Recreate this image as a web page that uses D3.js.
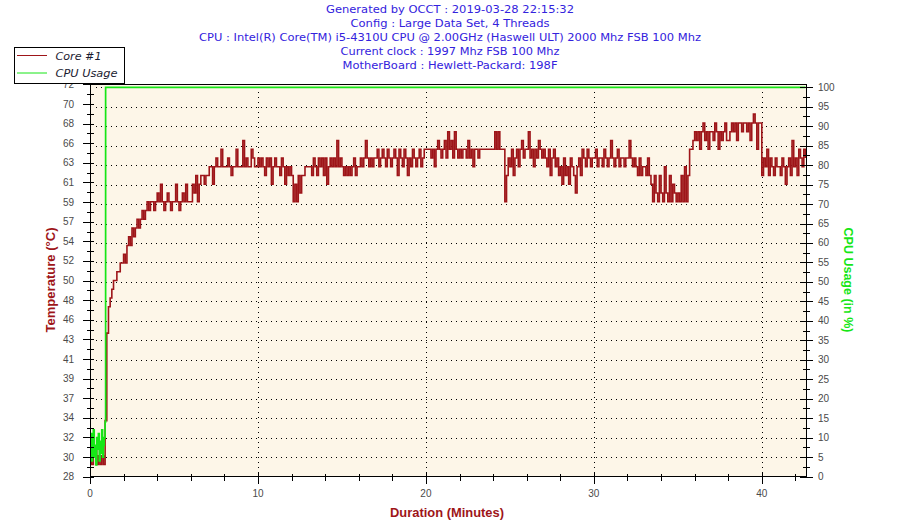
<!DOCTYPE html>
<html><head><meta charset="utf-8">
<script src="https://cdn.jsdelivr.net/npm/d3@7"></script>
<style>html,body{margin:0;padding:0;background:#fff;} svg{display:block;}</style>
</head><body>
<svg id="chart" width="900" height="532"></svg>
<script>
// ---------------- DATA ----------------
const titleLines = [
  "Generated by OCCT : 2019-03-28 22:15:32",
  "Config : Large Data Set, 4 Threads",
  "CPU : Intel(R) Core(TM) i5-4310U CPU @ 2.00GHz (Haswell ULT) 2000 Mhz FSB 100 Mhz",
  "Current clock : 1997 Mhz FSB 100 Mhz",
  "MotherBoard : Hewlett-Packard: 198F"
];
const seriesNames = ["Core #1", "CPU Usage"];
const sampleStepMinutes = 0.1;
// Core #1 temperature (°C), one reading every 0.1 minute from 0.0 to 42.6
const coreTemp = [
  30,29,30,31,29,30,29,30,29,34,
  44,47,48,49,50,50,51,51,52,52,
  53,52,54,55,54,56,55,56,57,56,
  57,58,57,58,59,58,59,59,58,59,
  60,59,61,59,58,59,60,59,58,59,
  59,61,59,58,59,60,59,61,59,59,
  59,61,60,62,59,61,62,62,61,62,
  62,63,63,61,63,64,63,63,65,63,
  63,63,64,63,62,63,63,65,63,63,
  63,66,63,64,63,63,65,64,63,63,
  64,63,64,63,62,64,63,64,61,63,
  64,63,63,62,64,63,61,63,62,63,
  62,59,61,59,62,60,62,62,63,63,
  63,63,62,64,63,62,64,63,64,62,
  64,61,63,64,63,64,63,66,63,64,
  63,62,63,62,63,62,63,64,62,63,
  63,64,63,64,66,64,63,64,63,64,
  64,65,63,64,65,64,63,65,64,63,
  64,65,64,62,65,64,63,65,64,62,
  64,63,65,64,63,64,65,63,64,65,
  65,65,65,64,65,63,65,66,65,64,
  65,66,64,67,65,66,64,67,65,64,
  65,64,65,65,64,66,64,65,63,65,
  65,64,65,65,65,65,65,65,65,65,
  65,67,65,67,65,65,65,59,62,64,
  63,65,62,64,65,63,65,66,64,65,
  65,67,64,65,63,65,64,66,65,64,
  65,64,63,65,62,64,65,63,64,62,
  63,61,64,62,63,61,64,63,62,60,
  63,64,62,65,64,63,65,64,63,64,
  64,65,63,64,64,63,65,64,63,64,
  66,64,63,64,65,63,64,64,63,64,
  64,66,64,63,64,63,62,64,62,63,
  63,62,64,62,61,59,62,60,59,62,
  60,59,63,60,59,62,59,61,60,59,
  60,59,62,59,63,59,62,65,65,66,
  67,66,67,65,67,68,66,67,65,67,
  67,66,68,67,65,67,66,67,68,66,
  66,67,68,67,68,66,68,68,67,68,
  68,67,68,66,68,69,68,65,68,68,
  62,64,63,65,62,64,63,62,64,63,
  63,62,64,63,61,63,64,62,66,63,
  64,62,65,64,63,65,64
];
// CPU usage (%)
const cpuMinutes = [0,0.05,0.1,0.15,0.2,0.25,0.3,0.35,0.4,0.45,0.5,0.55,0.6,0.65,0.7,0.75,0.8,0.85,0.9,0.93,42.6];
const cpuUsage   = [6,11,4,9,12,5,8,3,10,7,11,4,9,6,12,5,8,10,14,100,100];
// axes
const tempTickLabels = [28,30,32,34,37,39,41,43,46,48,50,52,54,57,59,61,63,66,68,70,72];
const tempDomain = [27.6, 72.4];
const cpuTickValues = [0,5,10,15,20,25,30,35,40,45,50,55,60,65,70,75,80,85,90,95,100];
const timeTickValues = [0,10,20,30,40];
const timeMinorTickValues = [2,4,6,8,12,14,16,18,22,24,26,28,32,34,36,38,42];
const timeDomain = [0, 42.63];

// ---------------- LAYOUT ----------------
const L = 90, R = 806, T = 84.5, B = 476.5;
const svg = d3.select("#chart");
const x = d3.scaleLinear().domain(timeDomain).range([L, R]);
const yT = d3.scaleLinear().domain(tempDomain).range([476.7, 84.4]);
const yC = d3.scaleLinear().domain([0, 100]).range([476.5, 87.3]);
const tempTickValues = tempTickLabels.map((d, i) => tempDomain[0] + i * (tempDomain[1] - tempDomain[0]) / (tempTickLabels.length - 1));
const tempMinorValues = tempTickValues.slice(0, -1).map((d, i) => (d + tempTickValues[i + 1]) / 2);
const cpuMinorValues = cpuTickValues.slice(0, -1).map(d => d + 2.5);

const red = "#9e1519", green = "#16e616", tickGray = "#4a4a4a";
const fontTick = "'Liberation Sans', Arial, sans-serif";

svg.append("rect").attr("x", L).attr("y", T).attr("width", R - L).attr("height", B - T).attr("fill", "#fdf6e8");

// grid
const grid = svg.append("g").attr("stroke", "#000").attr("stroke-width", 1).attr("stroke-dasharray", "1,4").attr("shape-rendering", "crispEdges");
grid.selectAll("line.h").data(cpuTickValues.filter(v => v > 0)).enter().append("line")
  .attr("x1", L + 6).attr("x2", R).attr("y1", d => Math.round(yC(d)) + 0.5).attr("y2", d => Math.round(yC(d)) + 0.5);
grid.selectAll("line.v").data(timeTickValues.filter(v => v > 0)).enter().append("line")
  .attr("x1", d => Math.round(x(d)) + 0.5).attr("x2", d => Math.round(x(d)) + 0.5).attr("y1", T + 2).attr("y2", B);

// series
const tempData = coreTemp.map((v, i) => [i * sampleStepMinutes, v]);
svg.append("path").datum(tempData)
  .attr("fill", "none").attr("stroke", red).attr("stroke-width", 1.6)
  .attr("d", d3.line().x(d => x(d[0])).y(d => yT(d[1])).curve(d3.curveStepAfter));
const cpuData = cpuMinutes.map((m, i) => [m, cpuUsage[i]]);
svg.append("path").datum(cpuData)
  .attr("fill", "none").attr("stroke", green).attr("stroke-width", 1.7)
  .attr("d", d3.line().x(d => x(d[0])).y(d => yC(d[1])).curve(d3.curveStepAfter));

// frame / axes lines
const ax = svg.append("g").attr("stroke", "#000").attr("stroke-width", 1).attr("shape-rendering", "crispEdges");
ax.append("line").attr("x1", 88).attr("x2", R + 1).attr("y1", 84.5).attr("y2", 84.5);
ax.append("line").attr("x1", L + 0.5).attr("x2", L + 0.5).attr("y1", 84).attr("y2", 477);
ax.append("line").attr("x1", L).attr("x2", R + 1).attr("y1", B).attr("y2", B);
ax.append("line").attr("x1", R + 0.5).attr("x2", R + 0.5).attr("y1", 84).attr("y2", 477);

// left ticks
ax.selectAll("line.lt").data(tempTickValues).enter().append("line")
  .attr("x1", L - 7).attr("x2", L + 4).attr("y1", d => Math.round(yT(d)) + 0.5).attr("y2", d => Math.round(yT(d)) + 0.5);
ax.selectAll("line.lm").data(tempMinorValues).enter().append("line")
  .attr("x1", L - 3).attr("x2", L + 4).attr("y1", d => Math.round(yT(d)) + 0.5).attr("y2", d => Math.round(yT(d)) + 0.5);
// right ticks
ax.selectAll("line.rt").data(cpuTickValues).enter().append("line")
  .attr("x1", R - 6).attr("x2", R + 7).attr("y1", d => Math.round(yC(d)) + 0.5).attr("y2", d => Math.round(yC(d)) + 0.5);
ax.selectAll("line.rm").data(cpuMinorValues).enter().append("line")
  .attr("x1", R - 3).attr("x2", R + 4).attr("y1", d => Math.round(yC(d)) + 0.5).attr("y2", d => Math.round(yC(d)) + 0.5);
// bottom ticks
ax.selectAll("line.bt").data(timeTickValues).enter().append("line")
  .attr("x1", d => Math.round(x(d)) + 0.5).attr("x2", d => Math.round(x(d)) + 0.5).attr("y1", B - 4).attr("y2", B + 7);
ax.selectAll("line.bm").data(timeMinorTickValues).enter().append("line")
  .attr("x1", d => Math.round(x(d)) + 0.5).attr("x2", d => Math.round(x(d)) + 0.5).attr("y1", B - 3).attr("y2", B + 4);

// tick labels
svg.append("g").selectAll("text").data(tempTickLabels).enter().append("text")
  .attr("x", 74).attr("y", (d, i) => yT(tempTickValues[i]) + 3.5).attr("text-anchor", "end")
  .attr("font-family", fontTick).attr("font-size", 10).attr("fill", tickGray).text(d => d);
svg.append("g").selectAll("text").data(cpuTickValues).enter().append("text")
  .attr("x", 818).attr("y", d => yC(d) + 3.5).attr("text-anchor", "start")
  .attr("font-family", fontTick).attr("font-size", 10).attr("fill", tickGray).text(d => d);
svg.append("g").selectAll("text").data(timeTickValues).enter().append("text")
  .attr("x", d => x(d)).attr("y", 497).attr("text-anchor", "middle")
  .attr("font-family", fontTick).attr("font-size", 10).attr("fill", tickGray).text(d => d);

// axis titles
const fontTitle = "'Liberation Sans', Arial, sans-serif";
svg.append("text").attr("x", 447).attr("y", 517).attr("text-anchor", "middle")
  .attr("font-family", fontTitle).attr("font-weight", "bold").attr("font-size", 12.5).attr("fill", red)
  .attr("textLength", 114).attr("lengthAdjust", "spacingAndGlyphs").text("Duration (Minutes)");
svg.append("text").attr("transform", "translate(55,280) rotate(-90)").attr("text-anchor", "middle")
  .attr("font-family", fontTitle).attr("font-weight", "bold").attr("font-size", 12.5).attr("fill", red)
  .attr("textLength", 105).attr("lengthAdjust", "spacingAndGlyphs").text("Temperature (°C)");
svg.append("text").attr("transform", "translate(844,280) rotate(90)").attr("text-anchor", "middle")
  .attr("font-family", fontTitle).attr("font-weight", "bold").attr("font-size", 12.5).attr("fill", green)
  .attr("textLength", 105).attr("lengthAdjust", "spacingAndGlyphs").text("CPU Usage (in %)");

// header
const titleWidths = [248, 199, 502, 219, 215];
const titleBase = [13, 27, 41, 55, 68.5];
svg.append("g").selectAll("text").data(titleLines).enter().append("text")
  .attr("x", 450).attr("y", (d, i) => titleBase[i]).attr("text-anchor", "middle")
  .attr("font-family", "'DejaVu Sans', Verdana, sans-serif").attr("font-size", 11).attr("fill", "#3322dd")
  .attr("textLength", (d, i) => titleWidths[i]).attr("lengthAdjust", "spacingAndGlyphs").text(d => d);

// legend
const lg = svg.append("g");
lg.append("rect").attr("x", 14.5).attr("y", 47.5).attr("width", 110).attr("height", 36).attr("fill", "#fff").attr("stroke", "#000").attr("shape-rendering", "crispEdges");
const legendColors = [red, green];
const legendWidths = [46, 62];
seriesNames.forEach((name, i) => {
  const yy = 55.5 + i * 17.5;
  lg.append("line").attr("x1", 17).attr("x2", 47).attr("y1", yy).attr("y2", yy).attr("stroke", legendColors[i]).attr("stroke-width", 1);
  lg.append("text").attr("x", 55.5).attr("y", yy + 4).attr("font-family", "'DejaVu Sans', Verdana, sans-serif")
    .attr("font-style", "italic").attr("font-size", 11).attr("fill", "#1a1a30")
    .attr("textLength", legendWidths[i]).attr("lengthAdjust", "spacingAndGlyphs").text(name);
});
</script>
</body></html>
